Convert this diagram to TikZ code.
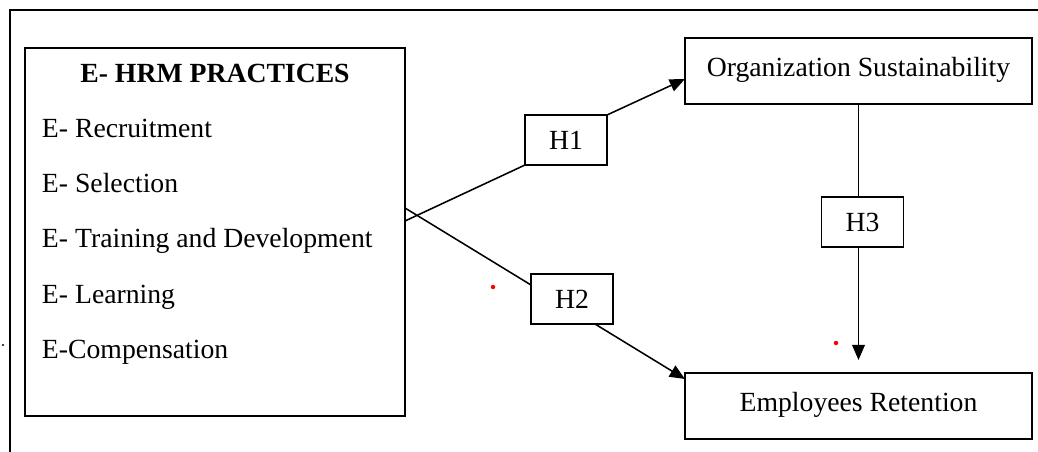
\documentclass[tikz,border=0pt]{standalone}
\usepackage{fontspec}
\setmainfont{Liberation Serif}
\usetikzlibrary{arrows.meta,calc,positioning}

\begin{document}
\begin{tikzpicture}[x=0.025cm,y=-0.025cm,line width=1.1pt,
  every node/.style={font=\fontsize{19.7}{23}\selectfont, inner sep=0pt, outer sep=0pt},
  hbox/.style={draw, minimum width=2.05cm, minimum height=1.25cm},
  varbox/.style={draw, minimum width=8.675cm, minimum height=1.65cm},
  arr/.style={-{Triangle[length=0.38cm,width=0.32cm]}}]
\useasboundingbox (0,0) rectangle (1038,452);

% outer frame
\draw (1038,10) -- (10,10) -- (10,452);
\fill (3,345) circle (0.8pt);

% E-HRM practices block
\node[draw, minimum width=9.5cm, minimum height=9.2cm] (hrm) at (215,232) {};
\node[anchor=base, font=\fontsize{19.7}{23}\selectfont\bfseries] (title) at (215,83) {E- HRM PRACTICES};
\node[anchor=base west] (rec) at (42,138) {E- Recruitment};
\node[anchor=base west] (sel) at (42,193) {E- Selection};
\node[anchor=base west] (trd) at (42,248) {E- Training and Development};
\node[anchor=base west] (lrn) at (42,303) {E- Learning};
\node[anchor=base west] (cmp) at (42,358) {E-Compensation};

% outcome variables
\node[varbox] (os) at (858.5,71) {\raisebox{0.2cm}{Organization Sustainability}};
\node[varbox] (er) at (858.5,406) {\raisebox{0.2cm}{Employees Retention}};

% hypotheses
\node[hbox] (h1) at (566,140) {H1};
\node[hbox] (h2) at (572,299) {H2};
\node[hbox] (h3) at (862.5,222) {H3};

% start points on the block
\coordinate (s1) at (405,221);
\coordinate (s2) at (405,208);

% paths
\draw (s1) -- (h1.south west);
\draw[arr] (h1.north east) -- ($(os.west)+(0,8)$);
\draw (s2) -- ($(h2.north west)+(0,11)$);
\draw[arr] ($(h2.south)+(23,0)$) -- ($(er.north west)+(0,6)$);
\draw (os.south) -- (h3.north -| os.south);
\draw[arr] (h3.south -| os.south) -- ($(er.north)+(0,-13)$);

% red marks
\fill[red] (493,287) circle (1.6pt);
\fill[red] (836,343) circle (1.6pt);
\end{tikzpicture}
\end{document}
